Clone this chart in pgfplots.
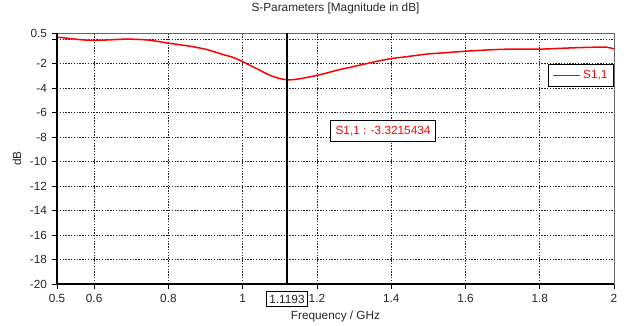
\documentclass[border=0pt]{standalone}
\usepackage{fontspec}
\setmainfont{Liberation Sans}
\usepackage{pgfplots}
\pgfplotsset{compat=1.18}
\begin{document}
\begin{tikzpicture}
\fontsize{11.5bp}{13bp}\selectfont
\path[use as bounding box] (0,0) rectangle (642bp,326bp);
\begin{axis}[
  at={(57bp,42bp)}, anchor=south west,
  scale only axis, width=557bp, height=251bp,
  xmin=0.5, xmax=2, ymin=-20, ymax=0.5,
  xtick={0.5,0.6,0.8,1,1.2,1.4,1.6,1.8,2},
  xticklabels={0.5,0.6,0.8,1,1.2,1.4,1.6,1.8,2},
  ytick={-20,-18,...,0,0.5},
  yticklabels={-20,-18,-16,-14,-12,-10,-8,-6,-4,-2,,0.5},
  tick align=outside, tick pos=left,
  major tick length=5bp,
  tick style={black, line width=0.8bp},
  grid=major,
  major grid style={black!85, line width=0.8bp, dash pattern=on 1.4bp off 1.4bp},
  axis line style={black!60, line width=0.8bp},
  ticklabel style={font=\fontsize{11.8bp}{13bp}\selectfont, text=black!85},
  xticklabel style={yshift=-1bp},
  yticklabel style={xshift=-1bp},
  title={S-Parameters [Magnitude in dB]},
  title style={at={(0.5,1)}, anchor=center, yshift=19bp, font=\fontsize{11.8bp}{13bp}\selectfont, text=black!85},
  xlabel={Frequency / GHz},
  xlabel style={at={(0.5,0)}, anchor=center, yshift=-32bp, font=\fontsize{11.8bp}{13bp}\selectfont, text=black!85},
  ylabel={dB},
  ylabel style={at={(0,0.5)}, anchor=center, rotate=0, yshift=40bp, font=\fontsize{11.8bp}{13bp}\selectfont, text=black!85},
  legend style={at={(1,0.876)}, anchor=north east, draw=black, line width=1.2bp,
     fill=white, text=red, font=\fontsize{11.8bp}{13bp}\selectfont,
     inner xsep=4bp, inner ysep=4bp},
  legend cell align=left,
  legend image code/.code={\draw[#1, line width=1.5bp] (0bp,0bp) -- (27bp,0bp);},
  clip=false,
]
\addplot[red, line width=1.5bp, smooth] coordinates {
(0.50,0.16) (0.525,0.08) (0.548,0.0) (0.575,-0.07) (0.60,-0.10)
(0.643,-0.06) (0.687,0.0) (0.74,-0.06) (0.77,-0.18) (0.80,-0.33)
(0.858,-0.58) (0.903,-0.85) (0.947,-1.26) (0.975,-1.50) (1.00,-1.84)
(1.02,-2.15) (1.038,-2.41) (1.056,-2.70) (1.074,-2.96) (1.095,-3.18)
(1.1193,-3.32) (1.14,-3.30) (1.155,-3.23) (1.175,-3.12) (1.20,-2.96)
(1.225,-2.78) (1.253,-2.55) (1.29,-2.30) (1.325,-2.06) (1.36,-1.82)
(1.40,-1.59) (1.44,-1.44) (1.47,-1.32) (1.50,-1.21) (1.55,-1.10)
(1.60,-0.99) (1.65,-0.90) (1.70,-0.83) (1.75,-0.82) (1.80,-0.82)
(1.85,-0.76) (1.90,-0.70) (1.95,-0.66) (1.98,-0.66) (2.00,-0.80)
};
\addlegendentry{S1,1}
\draw[black, line width=1.2bp] (rel axis cs:0,1) -- (rel axis cs:0,0) -- (rel axis cs:1,0);
\draw[black, line width=1.6bp] (axis cs:1.1193,-20) -- (axis cs:1.1193,0.5);
\node[draw=black, line width=1.2bp, fill=white, text=red, inner xsep=5bp, inner ysep=5.5bp,
  font=\fontsize{11.8bp}{13bp}\selectfont] at (axis cs:1.378,-7.5) {S1,1 : -3.3215434};
\node[draw=black, line width=0.8bp, fill=white, text=black!85, inner xsep=3bp, inner ysep=3bp,
  font=\fontsize{11.8bp}{13bp}\selectfont, yshift=-15bp] at (axis cs:1.1193,-20) {1.1193};
\end{axis}
\end{tikzpicture}
\end{document}
